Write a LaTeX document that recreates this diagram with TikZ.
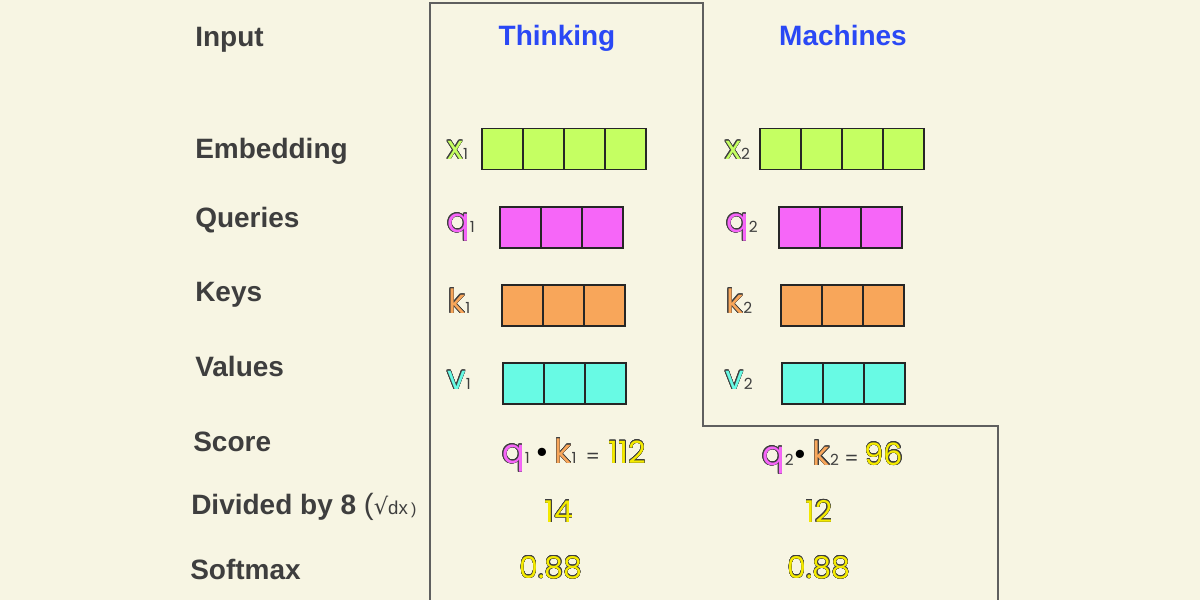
\documentclass[tikz,border=0pt]{standalone}
\usepackage{fontspec}
\setmainfont{Liberation Sans}
\newfontfamily\symfont{Poppins}
\newfontfamily\rootfont{DejaVu Sans}
\usepackage{contour}
\contourlength{0.3pt}
\contournumber{16}
\usetikzlibrary{positioning}
\definecolor{paper}{RGB}{247,245,227}
\definecolor{ink}{RGB}{62,62,62}
\definecolor{wordblue}{RGB}{42,72,245}
\definecolor{embgreen}{RGB}{197,255,98}
\definecolor{qpink}{RGB}{246,102,248}
\definecolor{korange}{RGB}{248,166,90}
\definecolor{vcyan}{RGB}{104,250,228}
\definecolor{numyellow}{RGB}{245,235,0}
\definecolor{framegray}{RGB}{95,95,95}
\newcommand{\vsym}[3]{{\color{#1}\contour{ink}{#2}}{\fontsize{11.5}{11.5}\selectfont\color{ink}#3}}
\newcommand{\vnum}[1]{{\color{numyellow}\contour{ink}{#1}}}
\tikzset{
  rowlbl/.style={anchor=base west, inner sep=0pt, text=ink, font=\bfseries\fontsize{21}{24}\selectfont},
  wordlbl/.style={anchor=base, inner sep=0pt, text=wordblue, font=\bfseries\fontsize{21}{24}\selectfont},
  symtxt/.style={anchor=base west, inner sep=0pt, font=\symfont\fontsize{25}{27}\selectfont},
  numtxt/.style={anchor=base, inner sep=0pt, font=\symfont\fontsize{22.5}{24}\selectfont},
  cell/.style={draw=black!85, line width=0.9pt, minimum width=30.75pt, minimum height=30.75pt, inner sep=0pt, outer sep=0pt},
  framestyle/.style={draw=framegray, line width=1.1pt}
}
\begin{document}
\begin{tikzpicture}[x=0.75pt, y=-0.75pt]
  \fill[paper] (0,0) rectangle (1200,600);
  \useasboundingbox (0,0) rectangle (1200,600);
  % row labels
  \node[rowlbl] (input) at (195,46) {Input};
  \node[rowlbl] (embedding) at (195,158) {Embedding};
  \node[rowlbl] (queries) at (195,227) {Queries};
  \node[rowlbl] (keys) at (195,301) {Keys};
  \node[rowlbl] (values) at (195,376) {Values};
  \node[rowlbl] (score) at (193,451) {Score};
  \node[rowlbl] (divided) at (191,514) {Divided by 8 {\normalfont\fontsize{22}{22}\selectfont(}{\normalfont\fontsize{14}{14}\selectfont{\rootfont\fontsize{17}{17}\selectfont √}dx\,{\fontsize{12}{12}\selectfont)}}};
  \node[rowlbl] (softmax) at (190,579) {Softmax};
  % words
  \node[wordlbl] (thinking) at (557,45) {Thinking};
  \node[wordlbl] (machines) at (843,45) {Machines};
  % frame
  \draw[framestyle] (430,600) |- (703,3) |- (998,426) -- (998,600);
  % vectors
  \foreach \vname/\vcol/\n/\x/\y in {x1/embgreen/4/482/149, q1/qpink/3/500/227.5, k1/korange/3/502/305.5, v1/vcyan/3/503/383.5,
                                     x2/embgreen/4/760/149, q2/qpink/3/779/227.5, k2/korange/3/781/305.5, v2/vcyan/3/782/383.5}
    \foreach \i in {1,...,\n}
      \node[cell, fill=\vcol] (\vname-\i) at ({\x+41*\i-20.5},\y) {};
  \node[symtxt] (x1-lbl) at (447,159) {\vsym{embgreen}{x}{1}};
  \node[symtxt] (q1-lbl) at (447,232) {\vsym{qpink}{q}{1}};
  \node[symtxt] (k1-lbl) at (448,313) {\vsym{korange}{k}{1}};
  \node[symtxt] (v1-lbl) at (447,389) {\vsym{vcyan}{v}{1}};
  \node[symtxt] (x2-lbl) at (725,159) {\vsym{embgreen}{x}{2}};
  \node[symtxt] (q2-lbl) at (726,232) {\vsym{qpink}{q}{2}};
  \node[symtxt] (k2-lbl) at (726,313) {\vsym{korange}{k}{2}};
  \node[symtxt] (v2-lbl) at (725,389) {\vsym{vcyan}{v}{2}};
  % score, scaled score, softmax
  \node[symtxt] (score1) at (502,463) {\vsym{qpink}{q}{1}\,{\color{black}•}\,\vsym{korange}{k}{1}\ {\fontsize{15}{15}\selectfont\color{ink}=}\ {\fontsize{23}{24}\selectfont\vnum{112}}};
  \node[symtxt] (score2) at (762,465) {\vsym{qpink}{q}{2}{\color{black}•}\,\vsym{korange}{k}{2}\,{\fontsize{15}{15}\selectfont\color{ink}=}\,{\fontsize{23}{24}\selectfont\vnum{96}}};
  \node[numtxt] (div1) at (559,522) {\vnum{14}};
  \node[numtxt] (div2) at (819,522) {\vnum{12}};
  \node[numtxt] (soft1) at (551,578) {\vnum{0.88}};
  \node[numtxt] (soft2) at (819,578) {\vnum{0.88}};
\end{tikzpicture}
\end{document}
